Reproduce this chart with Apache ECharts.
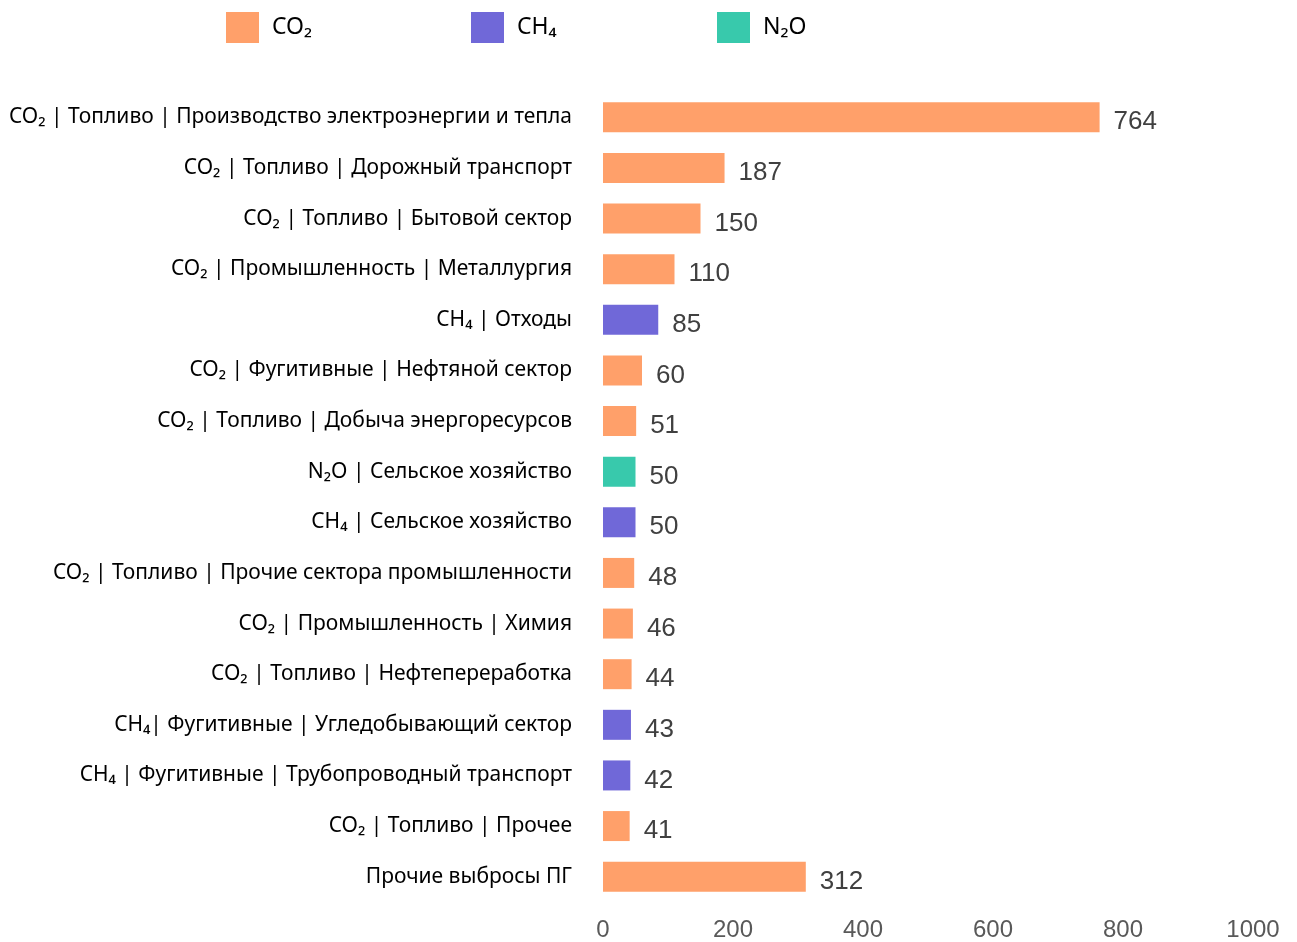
<!DOCTYPE html>
<html><head><meta charset="utf-8">
<script src="https://cdn.jsdelivr.net/npm/echarts@6/dist/echarts.min.js"></script>
<style>html,body{margin:0;padding:0;background:#fff}#c{width:1297px;height:942px}</style>
</head><body><div id="c"></div>
<script>
const categories = [
  "CO₂ | Топливо | Производство электроэнергии и тепла",
  "CO₂ | Топливо | Дорожный транспорт",
  "CO₂ | Топливо | Бытовой сектор",
  "CO₂ | Промышленность | Металлургия",
  "CH₄ | Отходы",
  "CO₂ | Фугитивные | Нефтяной сектор",
  "CO₂ | Топливо | Добыча энергоресурсов",
  "N₂O | Сельское хозяйство",
  "CH₄ | Сельское хозяйство",
  "CO₂ | Топливо | Прочие сектора промышленности",
  "CO₂ | Промышленность | Химия",
  "CO₂ | Топливо | Нефтепереработка",
  "CH₄| Фугитивные | Угледобывающий сектор",
  "CH₄ | Фугитивные | Трубопроводный транспорт",
  "CO₂ | Топливо | Прочее",
  "Прочие выбросы ПГ"
];
const values = [764, 187, 150, 110, 85, 60, 51, 50, 50, 48, 46, 44, 43, 42, 41, 312];
const gasOf = ["CO₂","CO₂","CO₂","CO₂","CH₄","CO₂","CO₂","N₂O","CH₄","CO₂","CO₂","CO₂","CH₄","CH₄","CO₂","CO₂"];
const gases = ["CO₂", "CH₄", "N₂O"];
const gasColors = {"CO₂": "#FFA06A", "CH₄": "#7068D8", "N₂O": "#38C9AC"};
const xTicks = {min: 0, max: 1000, interval: 200};

const chart = echarts.init(document.getElementById('c'));
const legendLeft = [226, 471, 717];
const series = gases.map(g => ({
  name: g,
  type: 'bar',
  barWidth: 30,
  barGap: '-100%',
  itemStyle: {color: gasColors[g]},
  label: {
    show: true, position: 'right', distance: 14,
    color: '#404040', fontFamily: 'Liberation Sans, Arial, sans-serif', fontSize: 26,
    offset: [0, 5]
  },
  data: values.map((v, i) => gasOf[i] === g ? v : '-')
}));
chart.setOption({
  animation: false,
  legend: gases.map((g, i) => ({
    data: [g], left: legendLeft[i], top: 12, padding: 0,
    itemWidth: 33, itemHeight: 31, icon: 'rect',
    textStyle: {fontFamily: 'Noto Sans, sans-serif', fontSize: 23, color: '#000', padding: [4, 0, 0, 8]}
  })),
  grid: {left: 603, right: 44, top: 92, bottom: 40, containLabel: false},
  xAxis: {
    type: 'value', min: xTicks.min, max: xTicks.max, interval: xTicks.interval,
    axisLine: {show: false}, axisTick: {show: false}, splitLine: {show: false},
    axisLabel: {color: '#595959', fontFamily: 'Liberation Sans, Arial, sans-serif', fontSize: 24, margin: 16,
      formatter: v => String(v)}
  },
  yAxis: {
    type: 'category', data: categories, inverse: true,
    axisLine: {show: false}, axisTick: {show: false},
    axisLabel: {color: '#000', fontFamily: 'Noto Sans, sans-serif', fontSize: 21, margin: 31, padding: [4, 0, 0, 0]}
  },
  series: series
});
</script></body></html>
